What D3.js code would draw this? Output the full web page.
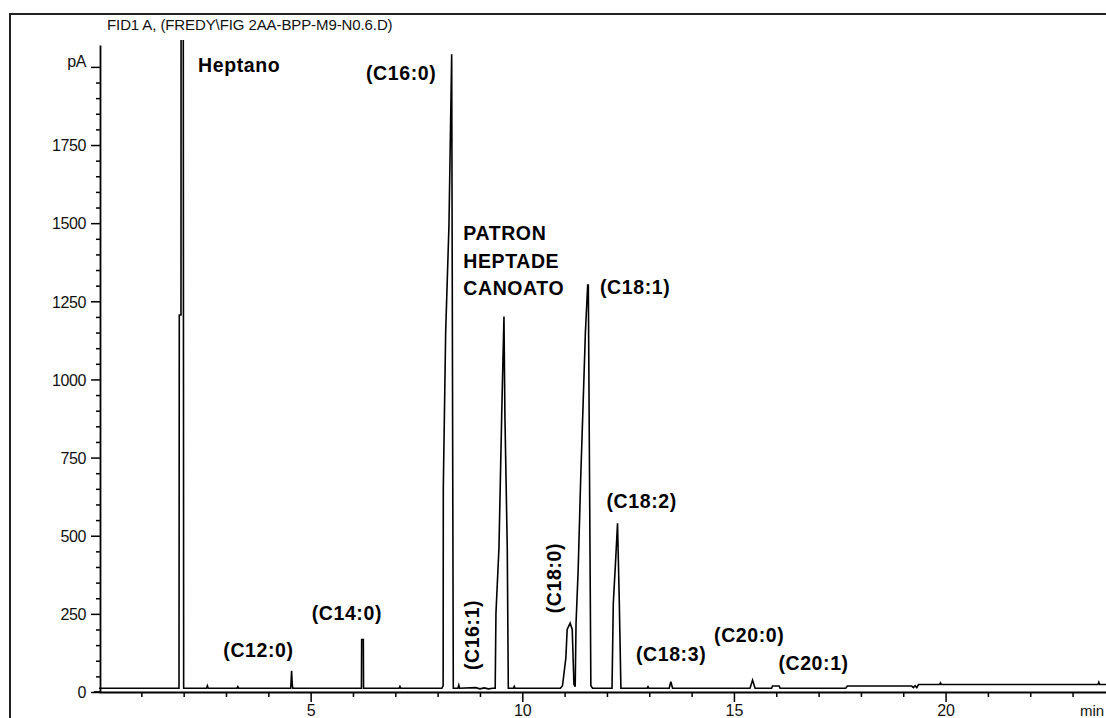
<!DOCTYPE html>
<html>
<head>
<meta charset="utf-8">
<script src="https://cdn.jsdelivr.net/npm/d3@7"></script>
<style>
  body { margin: 0; background: #fff; }
  svg { display: block; }
  .tick text { font-family: "Liberation Sans", Arial, sans-serif; font-size: 16px; fill: #111; }
  .peakLabel { font-family: "Liberation Sans", Arial, sans-serif; font-size: 19.5px; font-weight: bold; letter-spacing: 0.6px; fill: #000; }
</style>
</head>
<body>
<div id="chart"></div>
<script>
// retention time (min) and detector signal (pA)
var rt = [
  0.00, 1.89, 1.897, 1.937, 1.94, 1.99, 2.00, 2.54, 2.56, 2.58, 3.26, 3.28, 3.30,
  4.53, 4.55, 4.565, 4.58, 6.20, 6.205, 6.245, 6.25, 7.09, 7.11, 7.13,
  8.10, 8.13, 8.134, 8.19, 8.268, 8.332, 8.37, 8.40, 8.48, 8.50, 8.52,
  8.90, 9.00, 9.10, 9.20, 9.30, 9.36, 9.378, 9.449, 9.513, 9.567, 9.59, 9.645, 9.67,
  9.79, 9.81, 9.83, 10.90, 10.95, 11.03, 11.06, 11.13, 11.18, 11.22, 11.25,
  11.27, 11.32, 11.38, 11.44, 11.49, 11.545, 11.56, 11.62, 11.66,
  12.12, 12.15, 12.21, 12.25, 12.29, 12.33, 12.95, 12.97, 12.99,
  13.47, 13.51, 13.55, 15.38, 15.44, 15.50, 15.89, 15.91, 16.07, 16.09,
  17.64, 17.68, 19.20, 19.24, 19.28, 19.32, 19.36, 19.86, 19.88, 19.90,
  23.60, 23.62, 23.64, 23.79
];
var signal = [
  12, 12, 1206, 1206, 2400, 2400, 12, 12, 20, 12, 12, 17, 12,
  12, 68, 25, 12, 12, 168, 168, 12, 12, 18, 12,
  12, 20, 653, 1153, 1494, 2040, 12, 12, 12, 22, 12,
  14, 10, 13, 10, 12, 12, 253, 461, 881, 1201, 881, 461, 12,
  12, 18, 12, 12, 20, 110, 200, 220, 200, 25, 17,
  220, 390, 684, 934, 1148, 1302, 1302, 20, 12,
  12, 284, 433, 540, 300, 12, 12, 17, 12,
  12, 33, 12, 12, 38, 12, 12, 19, 19, 12,
  12, 19, 19, 14, 20, 14, 24, 24, 29, 24,
  24, 31, 24, 24
];

var yTickValues = d3.range(0, 2001, 50);
var xTickValues = d3.range(1, 24, 1);

var labelText = ["Heptano", "(C12:0)", "(C14:0)", "(C16:0)", "(C16:1)", "PATRON|HEPTADE|CANOATO",
                 "(C18:0)", "(C18:1)", "(C18:2)", "(C18:3)", "(C20:0)", "(C20:1)"];
var labelTime = [2.339, 2.937, 5.025, 6.307, 8.98, 8.606, 10.91, 11.835, 11.99, 12.685, 14.53, 16.05];
var labelPA = [1983, 112, 230, 1958, 70, 1446, 252, 1272, 590, 99, 161, 70];
var labelAngle = [0, 0, 0, 0, -90, 0, -90, 0, 0, 0, 0, 0];

var title = "FID1 A, (FREDY\\FIG 2AA-BPP-M9-N0.6.D)";

var width = 1106, height = 718;

var svg = d3.select("#chart").append("svg")
    .attr("width", width)
    .attr("height", height);

// outer frame
svg.append("rect")
    .attr("x", 10).attr("y", 14)
    .attr("width", 1200).attr("height", 800)
    .attr("fill", "none")
    .attr("stroke", "#222")
    .attr("stroke-width", 2);

svg.append("text")
    .attr("x", 107).attr("y", 29.5)
    .attr("font-family", "Liberation Sans, Arial, sans-serif")
    .attr("font-size", 15)
    .attr("letter-spacing", "-0.1px")
    .attr("fill", "#111")
    .text(title);

var x = d3.scaleLinear().domain([0, 23.79]).range([99, 1106]);
var y = d3.scaleLinear().domain([0, 2070]).range([692, 45]);

// y axis
var yAxis = svg.append("g")
    .attr("transform", "translate(100,0)")
    .call(d3.axisLeft(y).tickValues(yTickValues).tickSizeOuter(0)
        .tickFormat(function(d) { return d % 250 === 0 ? (d === 2000 ? "pA" : d) : ""; }));
yAxis.select(".domain").attr("stroke", "#000").attr("stroke-width", 1.8);
yAxis.selectAll(".tick line")
    .attr("stroke", "#000").attr("stroke-width", 1.5)
    .attr("x2", function(d) { return d % 250 === 0 ? -9 : -4; });
yAxis.selectAll(".tick text")
    .attr("x", -14)
    .attr("dy", function(d) { return d === 2000 ? "-0.05em" : "0.36em"; })
    .attr("letter-spacing", "-0.4px");

// x axis
var xAxis = svg.append("g")
    .attr("transform", "translate(0,692)")
    .call(d3.axisBottom(x).tickValues(xTickValues).tickSizeOuter(0)
        .tickFormat(function(d) { return d % 5 === 0 ? d : ""; }));
xAxis.select(".domain").attr("stroke", "#000").attr("stroke-width", 1.8);
xAxis.selectAll(".tick line")
    .attr("stroke", "#000").attr("stroke-width", 1.5)
    .attr("y2", function(d) { return d % 5 === 0 ? 10 : 5; });
xAxis.selectAll(".tick text")
    .attr("y", 13)
    .attr("dy", "0.71em");
svg.append("line")
    .attr("x1", 94).attr("x2", 100)
    .attr("y1", 692).attr("y2", 692)
    .attr("stroke", "#000").attr("stroke-width", 1.8);
svg.append("text")
    .attr("x", 1080).attr("y", 716)
    .attr("font-family", "Liberation Sans, Arial, sans-serif")
    .attr("font-size", 15)
    .attr("fill", "#111")
    .text("min");

// trace
svg.append("defs").append("clipPath")
    .attr("id", "clip")
    .append("rect")
    .attr("x", 99).attr("y", 40)
    .attr("width", 1010).attr("height", 652);

var points = rt.map(function(t, i) { return [t, signal[i]]; });
var line = d3.line()
    .x(function(d) { return x(d[0]); })
    .y(function(d) { return y(d[1]); });

svg.append("path")
    .datum(points)
    .attr("clip-path", "url(#clip)")
    .attr("d", line)
    .attr("fill", "none")
    .attr("stroke", "#000")
    .attr("stroke-width", 1.6)
    .attr("stroke-linejoin", "miter");

// peak labels
var labels = svg.append("g").selectAll("text")
    .data(labelText)
    .enter().append("text")
    .attr("class", "peakLabel")
    .attr("transform", function(d, i) {
        return "translate(" + x(labelTime[i]) + "," + y(labelPA[i]) + ") rotate(" + labelAngle[i] + ")";
    });
labels.each(function(d) {
    var el = d3.select(this);
    d.split("|").forEach(function(part, j) {
        el.append("tspan").attr("x", 0).attr("dy", j === 0 ? 0 : "1.41em").text(part);
    });
});
</script>
</body>
</html>
